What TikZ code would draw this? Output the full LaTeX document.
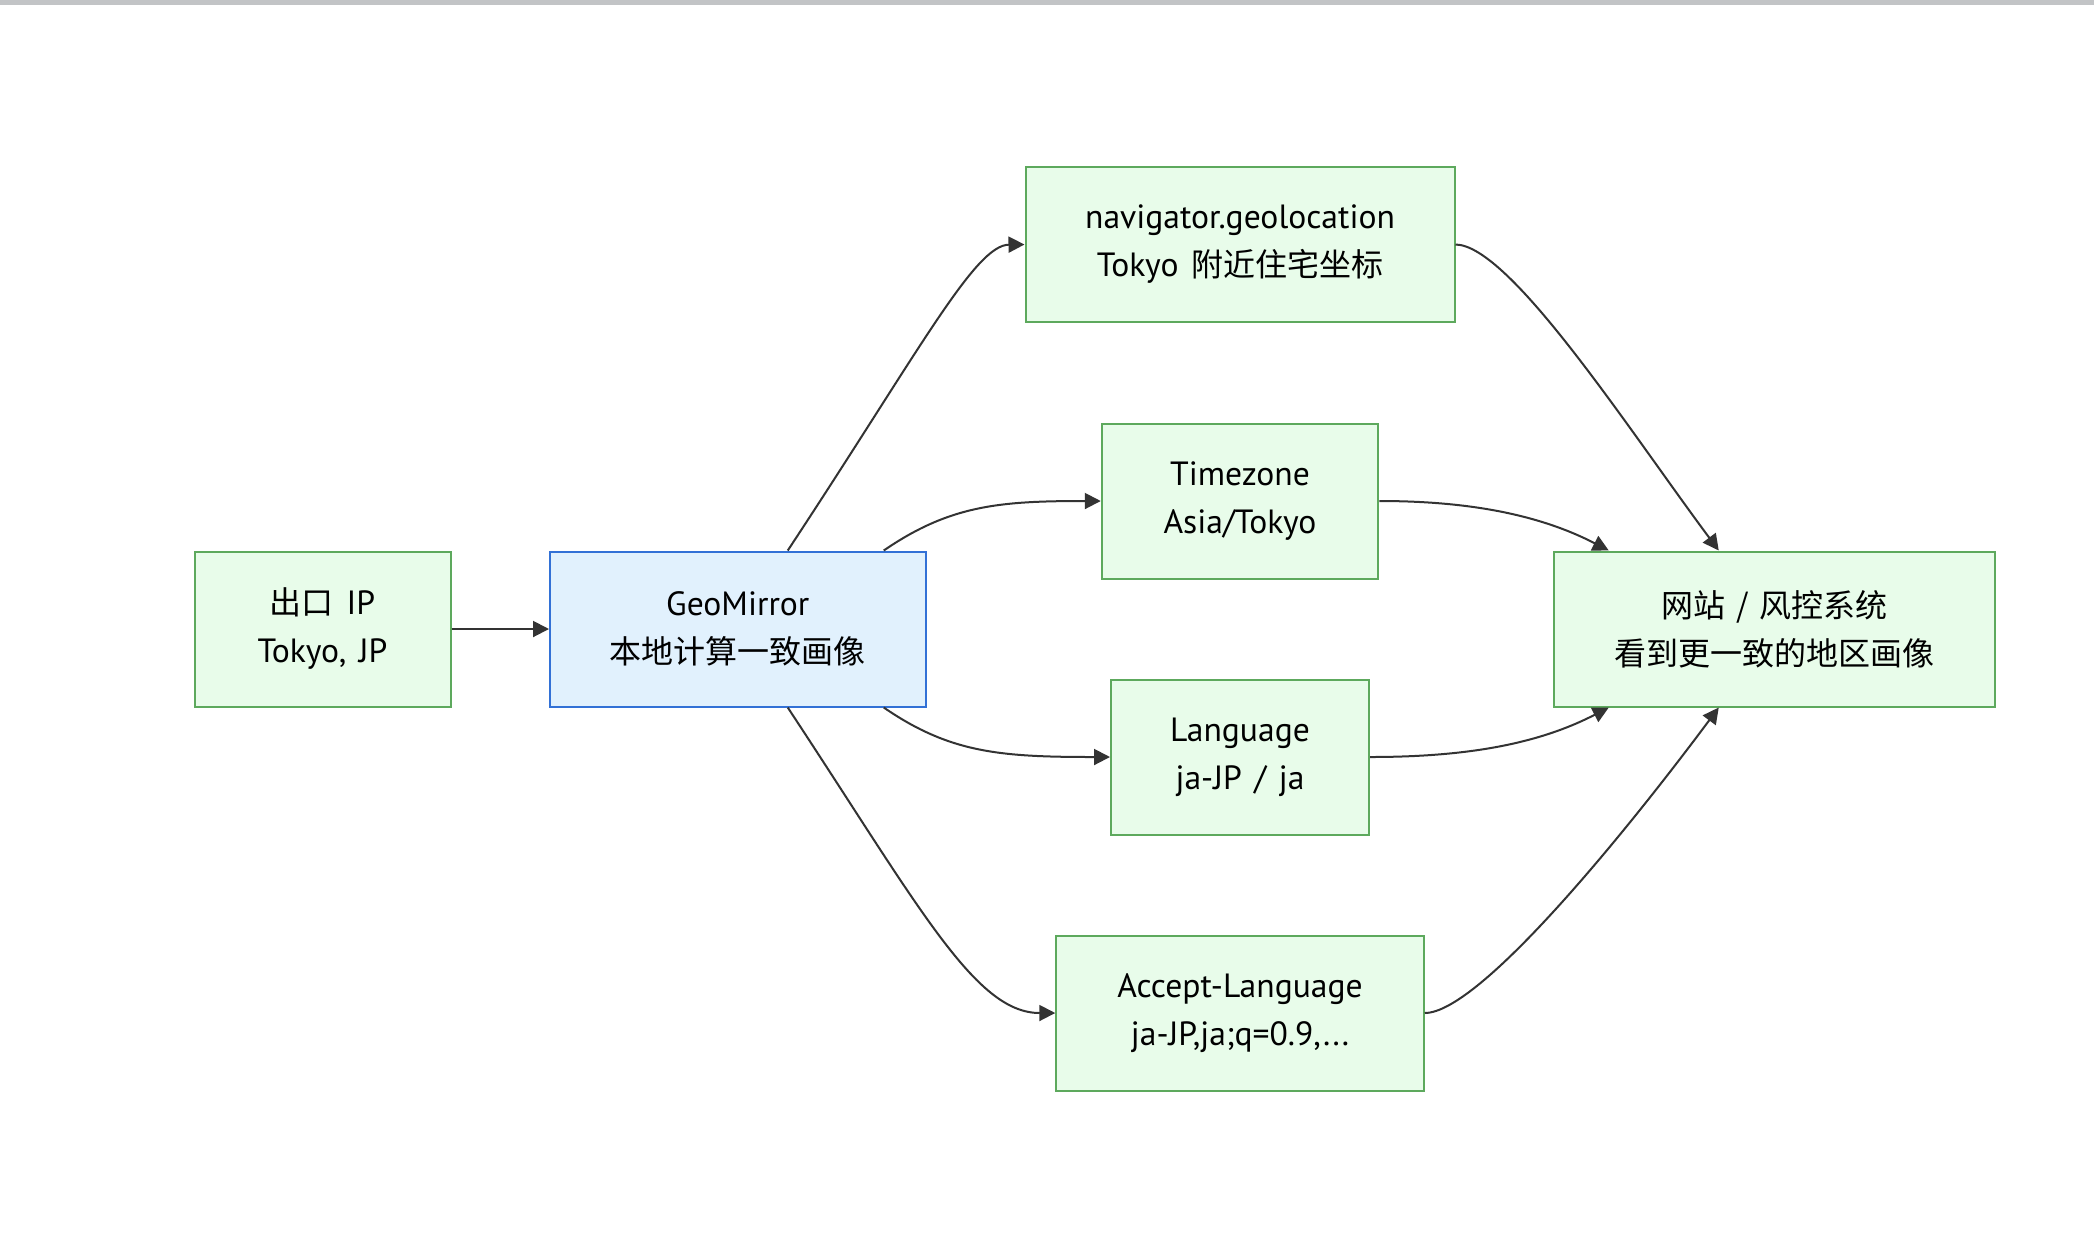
\documentclass[tikz,border=0pt]{standalone}
\usepackage{fontspec}
\setmainfont{PT Sans}[Scale=1.05,WordSpace=1.4]
\newfontfamily\cjk{Noto Sans CJK SC}[WordSpace=1.5]
\usetikzlibrary{arrows.meta}
\definecolor{boxgreen}{HTML}{E8FCEA}
\definecolor{linegreen}{HTML}{5DA95D}
\definecolor{boxblue}{HTML}{E1F1FD}
\definecolor{lineblue}{HTML}{3271D6}
\definecolor{edgegray}{HTML}{333333}
\definecolor{bargray}{HTML}{C2C4C6}

\begin{document}
\begin{tikzpicture}[x=0.5pt,y=-0.5pt,
   box/.style={draw=linegreen,fill=boxgreen,line width=1pt,align=center,
      font=\fontsize{16}{24}\selectfont,inner sep=0pt,minimum height=77.5pt},
   geobox/.style={box,draw=lineblue,fill=boxblue},
   edge/.style={draw=edgegray,line width=1pt,-{Triangle[length=8pt,width=8pt]}}]
   \fill[white] (0,0) rectangle (2094,1244);
   \useasboundingbox (0,0) rectangle (2094,1244);
   \fill[bargray] (0,0) rectangle (2094,5);
   % left side
   \node[box,minimum width=128pt] (ip) at (322.5,629) {{\cjk 出口} IP\\Tokyo, JP};
   \node[geobox,minimum width=187.75pt] (geo) at (737.75,629) {GeoMirror\\{\cjk 本地计算一致画像}};
   % signals
   \node[box,minimum width=214.5pt] (geoloc) at (1240,244.5) {navigator.geolocation\\Tokyo {\cjk 附近住宅坐标}};
   \node[box,minimum width=138.25pt] (tz) at (1240,501) {Timezone\\Asia/Tokyo};
   \node[box,minimum width=129pt] (lang) at (1240,757) {Language\\ja-JP / ja};
   \node[box,minimum width=183.75pt] (acclang) at (1240,1013) {Accept-Language\\ja-JP,ja;q=0.9,...};
   % target
   \node[box,minimum width=220.5pt] (site) at (1774.75,629) {{\cjk 网站 / 风控系统}\\{\cjk 看到更一致的地区画像}};

   \draw[edge] (ip.east) -- (geo.west);
   \draw[edge] ([xshift=25pt]geo.north) .. controls (920,350) and (975,245) .. (geoloc.west);
   \draw[edge] ([xshift=73pt]geo.north) .. controls (950,505) and (1000,501) .. (tz.west);
   \draw[edge] ([xshift=73pt]geo.south) .. controls (950,753) and (1000,757) .. (lang.west);
   \draw[edge] ([xshift=25pt]geo.south) .. controls (920,908) and (975,1013) .. (acclang.west);
   \draw[edge] (geoloc.east) .. controls (1510,245) and (1629,430) .. ([xshift=-28pt]site.north);
   \draw[edge] (tz.east) .. controls (1470,501) and (1540,515) .. ([xshift=-83pt]site.north);
   \draw[edge] (lang.east) .. controls (1470,757) and (1540,743) .. ([xshift=-83pt]site.south);
   \draw[edge] (acclang.east) .. controls (1480,1013) and (1629,828) .. ([xshift=-28pt]site.south);
\end{tikzpicture}
\end{document}
